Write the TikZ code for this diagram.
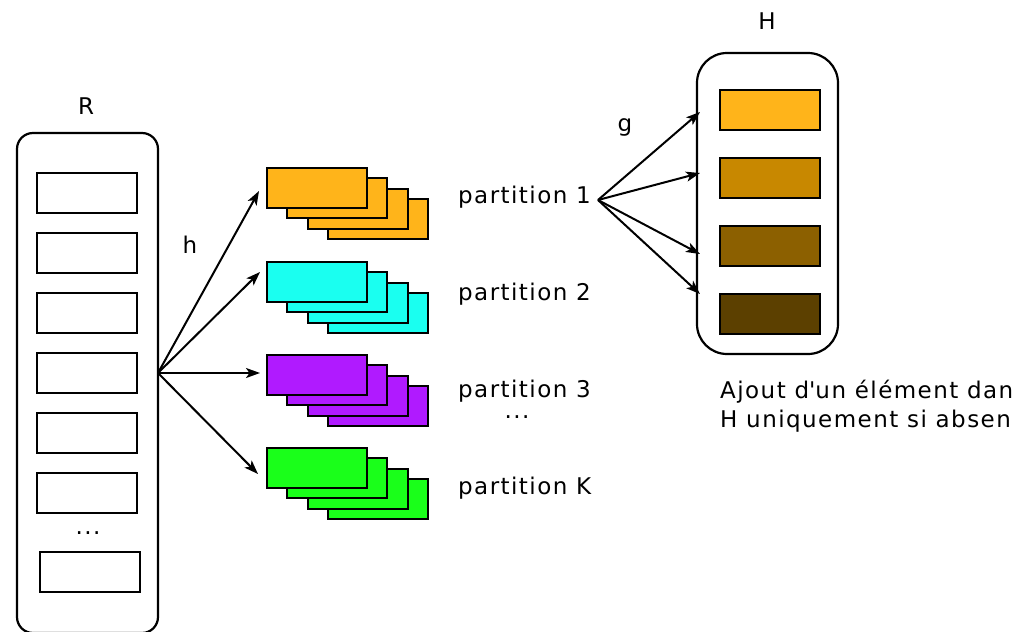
\documentclass[tikz,border=0pt]{standalone}
\usepackage{fontspec}
\setmainfont{DejaVu Sans}[LetterSpace=6.3]
\usetikzlibrary{arrows.meta}
\definecolor{corange}{RGB}{255,180,26}
\definecolor{ccyan}{RGB}{26,255,240}
\definecolor{cpurple}{RGB}{176,26,255}
\definecolor{cgreen}{RGB}{26,255,26}
\definecolor{hb}{RGB}{200,136,0}
\definecolor{hc}{RGB}{140,96,0}
\definecolor{hd}{RGB}{92,64,0}
\begin{document}
\begin{tikzpicture}[x=1pt,y=-1pt,
  box/.style={draw=black, line width=2.2pt, minimum width=100pt, minimum height=40pt, inner sep=0pt},
  cont/.style={draw=black, line width=2.2pt, inner sep=0pt},
  lab/.style={font=\fontsize{23}{29}\selectfont, inner sep=0pt},
  arr/.style={line width=2pt, -{Stealth[length=14pt,width=10pt,inset=3.5pt]}}]
\useasboundingbox (0,0) rectangle (1021,632);
% R container
\node[cont, rounded corners=16pt, minimum width=141pt, minimum height=500pt] (Rbox) at (87.5,383) {};
\node[lab] (Rlab) at (86,106) {R};
\foreach \i/\y in {1/193,2/253,3/313,4/373,5/433,6/493}{
  \node[box] (r\i) at (87,\y) {};
}
\node[box] (r7) at (90,572) {};
\node[lab] (rdots) at (88,533) {...};
% H container
\node[cont, rounded corners=30pt, minimum width=141pt, minimum height=301pt] (Hbox) at (767.5,203.5) {};
\node[lab] (Hlab) at (767,21) {H};
\node[box, fill=corange] (h1) at (770,110) {};
\node[box, fill=hb] (h2) at (770,178) {};
\node[box, fill=hc] (h3) at (770,246) {};
\node[box, fill=hd] (h4) at (770,314) {};
% stacks
\foreach \k/\y/\c in {1/188/corange,2/282/ccyan,3/375/cpurple,4/468/cgreen}{
  \node[box, fill=\c] (s\k d) at (378,\y+31) {};
  \node[box, fill=\c] (s\k c) at (358,\y+21) {};
  \node[box, fill=\c] (s\k b) at (337,\y+10) {};
  \node[box, fill=\c] (s\k a) at (317,\y) {};
}
% labels
\node[lab, anchor=base west] (p1) at (458,203) {partition 1};
\node[lab, anchor=base west] (p2) at (458,300) {partition 2};
\node[lab, anchor=base west] (p3) at (458,397) {partition 3};
\node[lab] (pdots) at (517,417) {...};
\node[lab, anchor=base west] (pK) at (458,494) {partition K};
\node[lab] (hlab) at (190,245) {h};
\node[lab] (glab) at (625,127) {g};
\node[lab, anchor=base west, align=left] (note) at (720,427) {Ajout d\textquotesingle un élément dan\\H uniquement si absen};
% h arrows
\coordinate (hsrc) at (158,373);
\coordinate (t1) at (259,191);
\coordinate (t2) at (260,272);
\coordinate (t3) at (260,373);
\coordinate (t4) at (258,474);
\foreach \t in {t1,t2,t3,t4}{ \draw[arr] (hsrc) -- (\t); }
% g arrows
\coordinate (gsrc) at (598,200);
\coordinate (u1) at (700,112);
\coordinate (u2) at (700,173);
\coordinate (u3) at (700,254);
\coordinate (u4) at (700,294);
\foreach \t in {u1,u2,u3,u4}{ \draw[arr] (gsrc) -- (\t); }
\end{tikzpicture}
\end{document}
